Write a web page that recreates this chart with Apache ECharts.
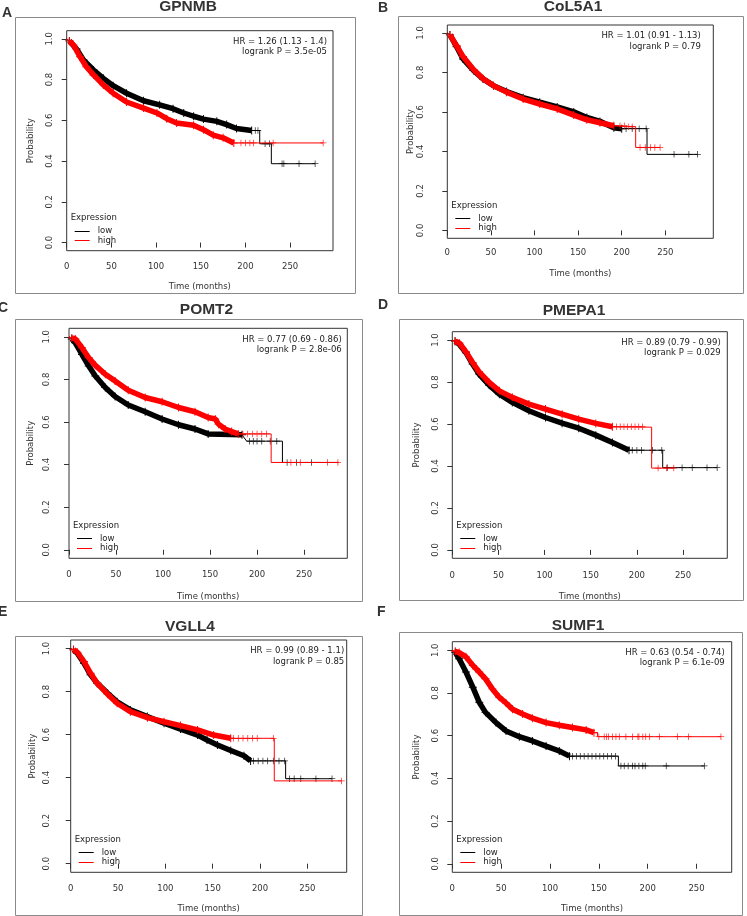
<!DOCTYPE html>
<html>
<head>
<meta charset="utf-8">
<script src="https://cdn.jsdelivr.net/npm/echarts/dist/echarts.min.js"></script>
<style>
  html, body { margin: 0; padding: 0; background: #ffffff; }
  #main { width: 747px; height: 916px; }
</style>
</head>
<body>
<div id="main"></div>
<script>
// ---- data ----
const xTicks = [0, 50, 100, 150, 200, 250];
const yTicks = [0, 0.2, 0.4, 0.6, 0.8, 1.0];
const genes = ['GPNMB', 'CoL5A1', 'POMT2', 'PMEPA1', 'VGLL4', 'SUMF1'];
const letters = ['A', 'B', 'C', 'D', 'E', 'F'];
const hrText = ['HR = 1.26 (1.13 - 1.4)', 'HR = 1.01 (0.91 - 1.13)', 'HR = 0.77 (0.69 - 0.86)',
  'HR = 0.89 (0.79 - 0.99)', 'HR = 0.99 (0.89 - 1.1)', 'HR = 0.63 (0.54 - 0.74)'];
const pText = ['logrank P = 3.5e-05', 'logrank P = 0.79', 'logrank P = 2.8e-06',
  'logrank P = 0.029', 'logrank P = 0.85', 'logrank P = 6.1e-09'];

// GPNMB
const aLowT  = [0, 3, 11, 18.7, 30, 41, 52, 67, 86, 104, 119, 131, 142, 153, 168, 179, 190, 207, 216, 216, 229, 229, 278];
const aLowS  = [1, 0.99, 0.95, 0.896, 0.847, 0.806, 0.77, 0.733, 0.696, 0.676, 0.657, 0.636, 0.62, 0.606, 0.595, 0.579, 0.56, 0.55, 0.55, 0.485, 0.485, 0.387, 0.387];
const aLowC  = [211, 214, 222, 227, 241, 243, 260, 278];
const aHighT = [0, 3, 7.5, 15, 22, 30, 41, 52, 67, 86, 101, 112, 123, 142, 153, 164, 175, 187, 287];
const aHighS = [1, 0.99, 0.97, 0.912, 0.863, 0.823, 0.774, 0.733, 0.69, 0.66, 0.636, 0.608, 0.587, 0.576, 0.554, 0.527, 0.514, 0.489, 0.489];
const aHighC = [195, 200, 205, 209, 231, 287];
// CoL5A1
const bLowT  = [0, 3, 10.7, 18, 30, 41, 53, 68, 87, 106, 126, 145, 160, 175, 191, 200, 229, 229, 287];
const bLowS  = [1, 0.99, 0.93, 0.868, 0.81, 0.767, 0.733, 0.703, 0.672, 0.649, 0.625, 0.6, 0.572, 0.552, 0.52, 0.515, 0.515, 0.385, 0.385];
const bLowC  = [205, 212, 220, 228, 260, 277, 287];
const bHighT = [0, 3, 10.7, 18, 30, 41, 53, 68, 87, 106, 126, 145, 160, 175, 191, 205, 216, 216, 244];
const bHighS = [1, 0.99, 0.935, 0.88, 0.815, 0.768, 0.733, 0.7, 0.665, 0.64, 0.615, 0.584, 0.56, 0.545, 0.53, 0.525, 0.525, 0.42, 0.42];
const bHighC = [198, 203, 208, 212, 221, 227, 233, 238, 244];
// POMT2
const cLowT  = [0, 3, 6.7, 13.8, 21, 28, 38.6, 49, 63, 81, 99, 116.5, 134, 148, 184, 189, 227, 227, 286];
const cLowS  = [1, 0.99, 0.972, 0.917, 0.863, 0.816, 0.762, 0.72, 0.68, 0.648, 0.614, 0.587, 0.567, 0.544, 0.54, 0.51, 0.51, 0.41, 0.41];
const cLowC  = [192, 196, 200, 205, 214, 221, 232, 242, 258];
const cHighT = [0, 3, 6.7, 13.8, 21, 28, 38.6, 49, 63, 81, 99, 116.5, 134, 148, 155.5, 159, 166, 173, 180, 215, 215, 287];
const cHighS = [1, 0.995, 0.99, 0.949, 0.902, 0.866, 0.824, 0.793, 0.749, 0.715, 0.695, 0.668, 0.648, 0.621, 0.614, 0.59, 0.567, 0.555, 0.544, 0.544, 0.41, 0.41];
const cHighC = [185, 190, 195, 200, 205, 210, 236, 246, 275, 286];
// PMEPA1
const dLowT  = [0, 3, 7.6, 14.8, 22, 29, 40, 51, 65, 83, 101, 119, 137, 155.5, 173.5, 191.5, 228, 228, 287];
const dLowS  = [1, 0.995, 0.98, 0.94, 0.886, 0.838, 0.785, 0.742, 0.703, 0.663, 0.631, 0.604, 0.58, 0.547, 0.512, 0.475, 0.475, 0.392, 0.392];
const dLowC  = [195, 200, 205, 217, 227, 233, 249, 260, 276, 287];
const dHighT = [0, 3, 7.6, 14.8, 22, 29, 40, 51, 65, 83, 101, 119, 137, 155.5, 173.5, 216, 216, 240];
const dHighS = [1, 0.995, 0.986, 0.944, 0.893, 0.849, 0.798, 0.758, 0.727, 0.695, 0.671, 0.647, 0.623, 0.603, 0.587, 0.585, 0.39, 0.39];
const dHighC = [178, 182, 186, 190, 194, 198, 202, 206, 223, 232, 240];
// VGLL4
const eLowT  = [0, 3, 7, 14, 21, 28, 39, 49, 63, 81, 98.6, 116, 134, 144, 155, 169, 183, 190, 227, 227, 276];
const eLowS  = [1, 0.995, 0.978, 0.932, 0.878, 0.839, 0.792, 0.753, 0.715, 0.684, 0.653, 0.626, 0.598, 0.575, 0.552, 0.526, 0.502, 0.478, 0.478, 0.395, 0.395];
const eLowC  = [193, 198, 203, 208, 214, 220, 226, 231, 236, 243, 259, 276];
const eHighT = [0, 3, 7, 14, 21, 28, 39, 49, 63, 81, 98.6, 116, 134, 151, 169, 215, 215, 286];
const eHighS = [1, 0.995, 0.983, 0.94, 0.885, 0.839, 0.788, 0.746, 0.707, 0.679, 0.66, 0.642, 0.622, 0.598, 0.583, 0.583, 0.385, 0.385];
const eHighC = [172, 177, 182, 187, 192, 197, 214, 286];
// SUMF1
const fLowT  = [0, 3, 7, 14, 21, 27.6, 34, 44.7, 55, 68.6, 82, 96, 109.5, 120, 170, 170, 258];
const fLowS  = [1, 0.99, 0.96, 0.898, 0.827, 0.756, 0.709, 0.661, 0.622, 0.595, 0.575, 0.551, 0.528, 0.504, 0.504, 0.458, 0.458];
const fLowC  = [123, 127, 131, 135, 139, 143, 147, 151, 155, 159, 163, 167, 172.6, 176, 180, 184.5, 187, 191, 195, 197.5, 219, 258];
const fHighT = [0, 3, 7, 14, 21, 27.6, 34, 41, 48, 55, 61.7, 72, 82, 96, 109.5, 123, 137, 145, 148.7, 148.7, 275];
const fHighS = [1, 0.995, 0.989, 0.969, 0.929, 0.898, 0.866, 0.819, 0.78, 0.753, 0.724, 0.701, 0.682, 0.661, 0.649, 0.638, 0.627, 0.614, 0.614, 0.595, 0.595];
const fHighC = [150, 155.5, 158, 160, 164, 167.5, 171, 177.7, 184.5, 190, 191, 195, 198, 202, 212, 230.6, 241.8, 275];

// where the dense run of censor marks ends (months), low / high
const bandEnd = [[207, 192], [204, 195], [184, 180], [192, 175], [190, 170], [120, 145]];

const curves = [
  [[aLowT, aLowS, aLowC], [aHighT, aHighS, aHighC]],
  [[bLowT, bLowS, bLowC], [bHighT, bHighS, bHighC]],
  [[cLowT, cLowS, cLowC], [cHighT, cHighS, cHighC]],
  [[dLowT, dLowS, dLowC], [dHighT, dHighS, dHighC]],
  [[eLowT, eLowS, eLowC], [eHighT, eHighS, eHighC]],
  [[fLowT, fLowS, fLowC], [fHighT, fHighS, fHighC]]
];

// ---- layout (pixels) ----
// box: outer frame, plot: left/top/right/bottom of plot region (y range -0.04..1.04)
const layout = [
  { box: [15, 17, 355, 293], plot: [66.7, 30.7, 333, 250.7], xMax: 298, title: [188, 6.5], letter: [2, 13], yLab: 16.7, yName: 35.7, xLab: 16.3, xName: 36.3, hr: 6 },
  { box: [398, 16, 743, 293], plot: [447.3, 25, 713.3, 238.3], xMax: 305, title: [573, 7], letter: [378, 8], yLab: 26.6, yName: 34.3, xLab: 14.7, xName: 35.7, hr: 12.5 },
  { box: [15, 319, 362, 601], plot: [69, 328.3, 347.3, 558.3], xMax: 296, title: [206.5, 310], letter: [-2, 308], yLab: 22.3, yName: 38.3, xLab: 16.7, xName: 38.4, hr: 5.6 },
  { box: [399, 319, 743, 600], plot: [452.3, 331.7, 727.3, 558.3], xMax: 298, title: [574, 310.5], letter: [378, 305], yLab: 16.6, yName: 35.6, xLab: 17, xName: 38.4, hr: 6.6 },
  { box: [15, 636, 362, 915], plot: [70.7, 640, 346.7, 872.3], xMax: 291.5, title: [190, 626.5], letter: [-2, 612], yLab: 24, yName: 38.4, xLab: 16.7, xName: 36.7, hr: 2.5 },
  { box: [399, 632, 742, 915], plot: [452.3, 641.7, 731.7, 872.3], xMax: 286, title: [578, 626], letter: [377, 612], yLab: 16.6, yName: 35.6, xLab: 16.7, xName: 36.7, hr: 7 }
];

const colors = ['#000000', '#ff0000'];
const groupNames = ['low', 'high'];
const FONT = 'DejaVu Sans';
const plusSymbol = 'path://M4.4,0h1.2v10h-1.2z M0,4.4h10v1.2h-10z';

function stepAt(t, ts, ss) {
  let v = ss[0];
  for (let i = 0; i < ts.length; i++) {
    if (ts[i] <= t) v = ss[i]; else break;
  }
  return v;
}

const grids = [], xAxes = [], yAxes = [], series = [], graphics = [];

layout.forEach((L, p) => {
  const [pl, pt, pr, pb] = L.plot;
  grids.push({ left: pl, top: pt, width: pr - pl, height: pb - pt, show: true,
    borderColor: '#333', borderWidth: 1, backgroundColor: 'transparent' });
  xAxes.push({
    type: 'value', gridIndex: p, min: 0, max: L.xMax,
    axisLine: { show: false },
    axisTick: { show: true, inside: false, length: 5, customValues: xTicks, lineStyle: { color: '#333' } },
    axisLabel: { customValues: xTicks, fontSize: 8.5, fontFamily: FONT, color: '#333', margin: L.xLab - 4.5 },
    splitLine: { show: false },
    name: 'Time (months)', nameLocation: 'middle', nameGap: L.xName - 4.5,
    nameTextStyle: { fontSize: 8.5, fontFamily: FONT, color: '#333' }
  });
  yAxes.push({
    type: 'value', gridIndex: p, min: -0.04, max: 1.04,
    axisLine: { show: false },
    axisTick: { show: true, inside: false, length: 5, customValues: yTicks, lineStyle: { color: '#333' } },
    axisLabel: { customValues: yTicks, rotate: 90, fontSize: 8.5, fontFamily: FONT, color: '#333',
      margin: L.yLab - 4.5, formatter: v => v.toFixed(1) },
    splitLine: { show: false },
    name: 'Probability', nameLocation: 'middle', nameRotate: 90, nameGap: L.yName - 4.5,
    nameTextStyle: { fontSize: 8.5, fontFamily: FONT, color: '#333' }
  });

  curves[p].forEach((c, g) => {
    const [ts, ss, cens] = c;
    const pts = ts.map((t, i) => [t, ss[i]]);
    const col = colors[g];
    series.push({
      type: 'line', name: groupNames[g], xAxisIndex: p, yAxisIndex: p, data: pts,
      showSymbol: false, lineStyle: { width: 1, color: col }, itemStyle: { color: col },
      animation: false, silent: true, z: 2 + g * 3
    });
    // dense run of censor marks: a thick stroke with a '+' at each read point
    series.push({
      type: 'line', name: groupNames[g], xAxisIndex: p, yAxisIndex: p,
      data: pts.filter(d => d[0] > 1 && d[0] <= bandEnd[p][g]),
      showSymbol: true, showAllSymbol: true, symbol: plusSymbol, symbolSize: 8,
      lineStyle: { width: 5.5, color: col, cap: 'butt' }, itemStyle: { color: col },
      animation: false, silent: true, z: 3 + g * 3
    });
    series.push({
      type: 'scatter', name: groupNames[g], xAxisIndex: p, yAxisIndex: p,
      data: cens.map(t => [t, stepAt(t, ts, ss)]),
      symbol: plusSymbol, symbolSize: 6.5, itemStyle: { color: col },
      animation: false, silent: true, z: 4 + g * 3
    });
  });

  // outer frame, title, panel letter
  const [bx0, by0, bx1, by1] = L.box;
  graphics.push({ type: 'rect', shape: { x: bx0 + 0.5, y: by0 + 0.5, width: bx1 - bx0, height: by1 - by0 },
    style: { fill: 'none', stroke: '#8a8a8a', lineWidth: 1 }, silent: true });
  graphics.push({ type: 'text', x: L.title[0], y: L.title[1],
    style: { text: genes[p], font: 'bold 15.5px "Liberation Sans", Arial, sans-serif', fill: '#333',
      textAlign: 'center', textVerticalAlign: 'middle' }, silent: true });
  graphics.push({ type: 'text', x: L.letter[0], y: L.letter[1],
    style: { text: letters[p], font: 'bold 14px "Liberation Sans", Arial, sans-serif', fill: '#333',
      textAlign: 'left', textVerticalAlign: 'middle' }, silent: true });

  // HR / logrank text
  graphics.push({ type: 'text', x: pr - L.hr, y: pt + 11,
    style: { text: hrText[p], font: '8.5px "DejaVu Sans"', fill: '#222', textAlign: 'right', textVerticalAlign: 'middle' }, silent: true });
  graphics.push({ type: 'text', x: pr - L.hr, y: pt + 21.5,
    style: { text: pText[p], font: '8.5px "DejaVu Sans"', fill: '#222', textAlign: 'right', textVerticalAlign: 'middle' }, silent: true });

  // legend
  graphics.push({ type: 'text', x: pl + 4, y: pb - 33,
    style: { text: 'Expression', font: '8.5px "DejaVu Sans"', fill: '#222', textAlign: 'left', textVerticalAlign: 'middle' }, silent: true });
  [pb - 20, pb - 10.3].forEach((ly, g) => {
    graphics.push({ type: 'line', shape: { x1: pl + 8, y1: Math.round(ly) + 0.5, x2: pl + 23, y2: Math.round(ly) + 0.5 },
      style: { stroke: colors[g], lineWidth: 1 }, silent: true });
    graphics.push({ type: 'text', x: pl + 31, y: ly,
      style: { text: groupNames[g], font: '8.5px "DejaVu Sans"', fill: '#222', textAlign: 'left', textVerticalAlign: 'middle' }, silent: true });
  });
});

const chart = echarts.init(document.getElementById('main'), null, { renderer: 'canvas' });
chart.setOption({
  animation: false,
  backgroundColor: '#ffffff',
  grid: grids,
  xAxis: xAxes,
  yAxis: yAxes,
  series: series,
  graphic: graphics
});
</script>
</body>
</html>
